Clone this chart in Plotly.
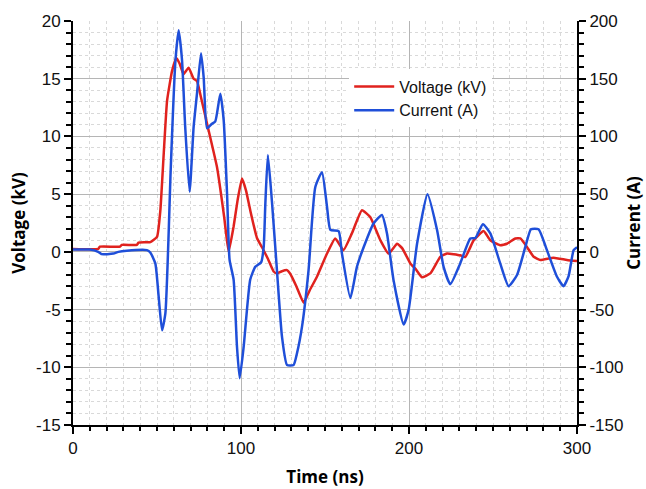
import plotly.graph_objects as go

# Voltage trace (kV)
t_voltage = [0, 15, 16, 28, 29, 38, 39, 46, 50, 52,
             54, 56, 59, 61.5, 63.5, 65.8, 68.8, 71.8, 73.8, 76,
             79.8, 85.7, 90, 92.6, 95.6, 98, 100.6, 103, 105.5, 109.5,
             112.5, 116, 119.4, 121.4, 124, 127.4, 129.3, 133, 137.3, 141,
             145.2, 151.2, 156.1, 161, 166, 172, 177, 183, 187.9, 192.9,
             196, 200.8, 204, 207.7, 212.7, 218.6, 222.6, 230.5, 233.5, 238.5,
             244.4, 248.4, 254.3, 258.3, 263.3, 266.3, 270.2, 274.2, 278.2, 286,
             294, 300]
voltage_kv = [0.25, 0.25, 0.45, 0.45, 0.6, 0.6, 0.8, 0.85, 1.3, 3.6,
              8.5, 13.1, 15.7, 16.8, 16.3, 15.4, 15.95, 15.0, 14.8, 13.5,
              11.1, 7.35, 3.0, 0, 2.2, 4.5, 6.35, 5.3, 3.6, 1.2,
              0.4, -0.6, -1.7, -1.87, -1.7, -1.58, -1.9, -3.0, -4.4, -3.3,
              -2.16, -0.14, 1.16, 0.15, 1.6, 3.6, 3.0, 1.0, -0.15, 0.7,
              0.3, -1.0, -1.5, -2.2, -1.87, -0.43, -0.14, -0.3, -0.45, 1.0,
              1.8, 1.0, 0.58, 0.7, 1.16, 1.16, 0.43, -0.43, -0.7, -0.5,
              -0.7, -0.8]

# Current trace (A)
t_current = [0, 10, 15, 17, 24, 27, 32, 44, 46, 49,
             51, 53, 55, 57, 58, 61, 62.9, 64.9, 66.8, 69.4,
             71.8, 73.8, 76.2, 77.8, 79.8, 82.7, 84.7, 87.7, 89.7, 91.7,
             93.2, 95.6, 97.6, 99.2, 101.6, 105.5, 108.5, 112, 113.5, 114.5,
             116, 118.5, 121.4, 124.4, 127.4, 131.3, 133.3, 136.3, 140.2, 144.2,
             148.2, 151.2, 153.2, 158.1, 160.1, 165.1, 169, 173, 178.9, 183.9,
             186.9, 190.8, 196.8, 199.8, 204.8, 211, 216.7, 220.6, 224.6, 230.5,
             236.5, 239.5, 244, 248.4, 254.3, 259.3, 264.3, 269.2, 272.6, 277.1,
             282.1, 288.1, 292, 295, 298, 300]
current_a = [2, 2, 0, -2, -1.5, 0, 1, 1.5, -0.5, -10,
             -39, -68, -53, 19, 65, 166, 192, 166, 108, 52,
             108, 137, 172, 151, 107, 111, 113, 137, 114, 50,
             -7, -24, -82, -109.5, -82, -24, -13, -9, 4, 42,
             84, 42, -16, -73.5, -98, -98, -88, -65, -16, 56,
             69, 39, 19, 18, -1.5, -40, -13, 4, 24.6, 32,
             16, -24.5, -63, -50, 7, 50, 19, -13, -28, -10,
             11.6, 12, 24, 16, -10, -29.7, -20, 4, 19.6, 19.6,
             1.5, -21.6, -29.7, -21, 1.5, 4]

x_ticks = [0, 100, 200, 300]
v_ticks = [-15, -10, -5, 0, 5, 10, 15, 20]
i_ticks = [-150, -100, -50, 0, 50, 100, 150, 200]

RED = "#e0221e"
BLUE = "#1f4fd9"
TICKFONT = dict(family="Liberation Sans, Arial, sans-serif", size=17, color="#111")
TITLEFONT = dict(family="Open Sans, Lato, sans-serif", size=17, color="#000", weight="bold")

fig = go.Figure()
fig.add_trace(go.Scatter(x=t_voltage, y=voltage_kv, name="Voltage (kV)", mode="lines",
                         line=dict(color=RED, width=2.5, shape="spline", smoothing=0.4),
                         yaxis="y"))
fig.add_trace(go.Scatter(x=t_current, y=current_a, name="Current (A)", mode="lines",
                         line=dict(color=BLUE, width=2.5, shape="spline", smoothing=0.5),
                         yaxis="y2"))

fig.update_layout(
    width=646, height=489,
    margin=dict(l=73, r=69, t=21, b=64),
    paper_bgcolor="white", plot_bgcolor="white",
    showlegend=True,
    legend=dict(x=0.548, y=0.88, xanchor="left", yanchor="top",
                bgcolor="white", borderwidth=0,
                font=dict(family="Liberation Sans, Arial, sans-serif", size=16, color="#111"),
                tracegroupgap=0, itemwidth=40),
    xaxis=dict(range=[0, 300], tickvals=x_ticks, ticktext=[str(v) for v in x_ticks],
               showline=True, linecolor="black", linewidth=2, mirror=False,
               ticks="outside", ticklen=7, tickwidth=2, tickcolor="black",
               showgrid=True, gridcolor="#b5b5b5", gridwidth=1,
               zeroline=False, tickfont=TICKFONT, automargin=False,
               minor=dict(dtick=10, tick0=0, ticks="outside", ticklen=4, tickwidth=1.5,
                          tickcolor="black", showgrid=True, gridcolor="#d9d9d9",
                          griddash="dot", gridwidth=1),
               title=dict(text="Time (ns)", font=TITLEFONT, standoff=14)),
    yaxis=dict(range=[-15, 20], tickvals=v_ticks, ticktext=[str(v) for v in v_ticks],
               showline=True, linecolor="black", linewidth=2,
               ticks="outside", ticklen=7, tickwidth=2, tickcolor="black",
               showgrid=True, gridcolor="#b5b5b5", gridwidth=1,
               zeroline=False, tickfont=TICKFONT, automargin=False,
               minor=dict(dtick=1, tick0=0, ticks="outside", ticklen=5, tickwidth=1.5,
                          tickcolor="black", showgrid=True, gridcolor="#d9d9d9",
                          griddash="dot", gridwidth=1),
               title=dict(text="Voltage (kV)", font=TITLEFONT, standoff=6)),
    yaxis2=dict(range=[-150, 200], tickvals=i_ticks, ticktext=[str(v) for v in i_ticks],
                overlaying="y", side="right", anchor="x",
                showline=True, linecolor="black", linewidth=2,
                ticks="outside", ticklen=7, tickwidth=2, tickcolor="black",
                showgrid=False, zeroline=False, tickfont=TICKFONT, automargin=False,
                minor=dict(dtick=10, tick0=0, ticks="outside", ticklen=5, tickwidth=1.5,
                           tickcolor="black", showgrid=False),
                title=dict(text="Current (A)", font=TITLEFONT, standoff=6)),
)

fig.write_html("out.html", config={"displayModeBar": False},
               post_script="document.body.style.margin='0';")
